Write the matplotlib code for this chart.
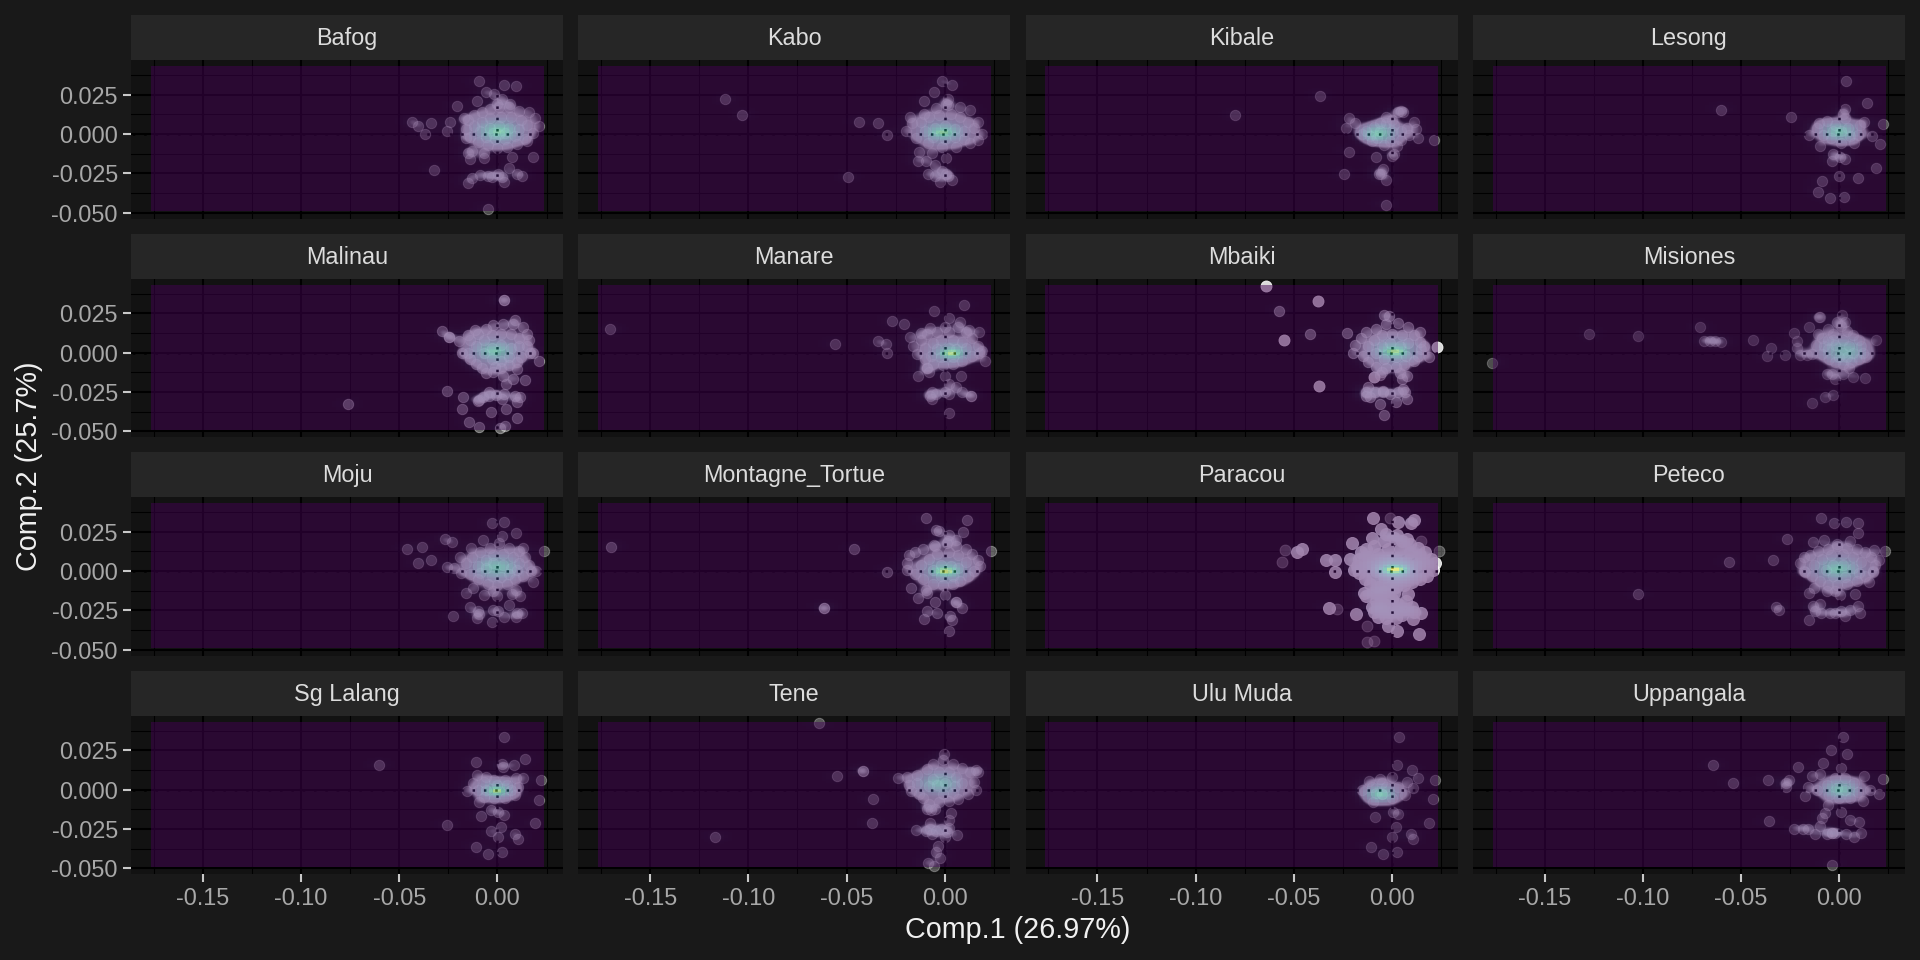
import numpy as np
import matplotlib
matplotlib.use("Agg")
import matplotlib.pyplot as plt

# -------- CONFIG --------
FIG_W = 1920
FIG_H = 960
DPI = 100

PANEL_LEFT = 131
PANEL_W = 432
COL_STEP = 447.3
PANEL_TOP = 60
PANEL_H = 158.5
ROW_STEP = 218.5
STRIP_H = 45

BG = "#191919"
PANEL_BG = "#121212"
STRIP_BG = "#262626"

XLIM = (-0.1866, 0.0334)
YLIM = (-0.0536, 0.0471)
RASTER_X = (-0.1766, 0.0234)
RASTER_Y = (-0.049, 0.0425)
BW_X = 0.0042
BW_Y = 0.0026
VMAX = 40.0
# ------------------------

NAMES = ["Bafog", "Kabo", "Kibale", "Lesong",
         "Malinau", "Manare", "Mbaiki", "Misiones",
         "Moju", "Montagne_Tortue", "Paracou", "Peteco",
         "Sg Lalang", "Tene", "Ulu Muda", "Uppangala"]

X_TICKS = [-0.15, -0.10, -0.05, 0.00]
X_TICK_LABELS = ["-0.15", "-0.10", "-0.05", "0.00"]
X_MINOR = [-0.175, -0.125, -0.075, -0.025, 0.025]
Y_TICKS = [-0.050, -0.025, 0.000, 0.025]
Y_TICK_LABELS = ["-0.050", "-0.025", "0.000", "0.025"]
Y_MINOR = [-0.0375, -0.0125, 0.0125, 0.0375]

# densest spot of each panel, samples piled up around it (broad) and right on it (peak)
CORE_X = [0.001, -0.0005, -0.006, 0.0005, -0.001, 0.004, 0.002, 0.003,
          0.0, 0.001, 0.002, -0.0005, 0.0, -0.002, -0.005, 0.001]
CORE_Y = [0.0015, 0.001, 0.0, 0.001, 0.001, 0.0, 0.001, 0.001,
          0.002, 0.0, 0.001, 0.001, -0.0005, 0.004, -0.003, 0.0]
CORE_BROAD = [18, 15, 19, 17, 16, 14, 16, 15, 17, 15, 12, 17, 14, 15, 18, 17]
CORE_PEAK = [4, 12, 2, 2, 6, 18, 15, 0, 2, 19, 27, 4, 18, 1, 2, 2]
CORE_SPREAD = [1.0, 1.0, 0.75, 0.8, 1.0, 0.9, 1.0, 0.95,
               1.0, 1.0, 1.0, 1.0, 0.75, 0.95, 0.7, 0.8]

POINT_ALPHA = [0.3, 0.3, 0.3, 0.3, 0.4, 0.3, 0.45, 0.25,
               0.3, 0.35, 0.85, 0.3, 0.3, 0.3, 0.28, 0.3]

BAFOG = [(-.0094,.0335),(.0035,.0315),(.0096,.0306),(-.0057,.0265),(-.0016,.0252),(.0025,.0225),(-.0102,.0208),
         (-.0205,.018),(0,.0194),(.0065,.0194),(-.0436,.0079),(-.0405,.0052),(-.034,.0073),(-.0368,.0002),
         (-.0241,.0075),(-.0256,.0023),(-.017,.01),(-.016,-.0025),(-.015,-.0119),(-.0129,-.0108),(-.0139,-.016),
         (-.0068,-.0119),(-.0068,-.015),(.0076,-.0146),(.0182,-.0148),(.0061,-.0213),(-.0323,-.0231),(-.0149,-.031),
         (-.0129,-.0281),(-.0088,-.0258),(-.0047,-.0269),(-.0027,-.0275),(.0004,-.0254),(.0035,-.0306),(.0025,-.0275),
         (.0102,-.0254),(.0123,-.0269),(-.0049,-.0477),(.0153,-.0042),
         (-.015,.009),(-.012,.012),(-.008,.014),(-.004,.016),(.001,.017),(.006,.017),(.011,.015),(.016,.014),
         (.019,.010),(.021,.005),(.018,.001),(.014,-.003),(.010,-.006),(.005,-.008),(0,-.009),(-.005,-.007),
         (-.010,-.005),(-.014,-.002),(-.016,.003),(-.012,.005),(-.008,.008),(-.004,.010),(.002,.011),(.007,.011),
         (.012,.009),(.015,.006),(.011,.003),(.006,.004),(.001,.005),(-.004,.004),(-.009,.002),(-.006,-.002),
         (-.001,-.003),(.004,-.003),(.009,-.001),(.001,0),(.004,.001),(-.002,.001)]

KABO = [(-.1117,.0221),(-.1031,.0121),(-.0436,.0079),(-.0338,.0073),(-.0293,-.0004),(-.0491,-.0273),(-.0012,.0335),
        (.0035,.0315),(-.0053,.0265),(-.0104,.0208),(.0018,.0225),(.0008,.0194),(-.0129,-.0115),(-.0135,-.0171),
        (-.0094,-.0171),(-.0051,-.0198),(-.0084,-.0256),(-.0047,-.0265),(-.0023,-.0302),(.0035,-.029),(.0008,-.0254),
        (-.0012,-.0233),(.0018,-.0265),(.0008,-.015),(-.0063,-.0119),
        (-.0176,.011),(-.0196,.0017),(-.0166,.0069),(.0192,0),(.0172,.0079),(.0131,.0152),(.008,.0173),(.0018,.0183),
        (-.0043,.0163),(-.0104,.0131),(.0172,-.0035),(.0127,-.0056),(.0059,-.0081),(-.0012,-.0081),(-.0084,-.0056),
        (-.0145,-.0025),(-.012,.008),(-.008,.011),(-.003,.012),(.003,.013),(.008,.011),(.012,.008),(.015,.004),
        (.010,.002),(.005,.003),(0,.005),(-.005,.004),(-.010,.002),(-.006,-.002),(0,-.003),(.005,-.002),(.01,-.003)]

KIBALE = [(-.0798,.0121),(-.0366,.0242),(-.022,.01),(-.0189,.0073),(-.0235,.0042),(-.022,-.0113),(-.0083,-.0144),
          (.0002,-.014),(.0008,-.0129),(-.0048,-.0219),(-.0064,-.0256),(-.0056,-.0254),(-.0029,-.029),(-.0243,-.0254),
          (-.0031,-.0448),(.0216,-.0037),(.0133,-.0025),(.011,.0079),(.0121,.0033),(.0044,.0148),(.0054,.0142),
          (.0033,.0142),(.0023,-.0073),(-.0029,.011),(.0002,.009),(-.0133,.0017),(-.0154,.0002),(-.0102,-.0046),
          (-.0039,-.0067),(-.0091,.0048),(-.006,.0069),(-.0029,.0069),(.0012,.0058),(.0075,.0038),(.0085,-.0004),
          (.0044,-.0035),(-.0008,-.0046),(-.0077,-.0025),(-.0112,-.001),(-.006,.0017),(.0002,.0017),(.0044,.0017)]

LESONG = [(-.0603,.0156),(-.0245,.0106),(.0035,.0335),(.0141,.0198),(.0027,.0158),(.0222,.0065),(.0168,-.001),
          (.0208,-.0063),(-.01,-.0077),(-.0152,-.0004),(-.0031,-.0125),(-.0035,-.0171),(.0031,-.0156),(.0002,-.0144),
          (.0189,-.0213),(.0094,-.0281),(-.0004,-.0269),(-.0089,-.0298),(-.0108,-.0365),(-.0048,-.0406),(.0025,-.0398),
          (-.0104,.0069),(-.0062,.0085),(-.0114,.0038),(-.0083,-.0004),(-.0042,-.0025),(.001,-.0056),(.0073,-.0056),
          (.0094,-.0004),(.0104,.0058),(.0125,.0079),(.0031,.01),(-.0021,.0058),(.0042,.0038),(.001,.0017),
          (-.0031,.0017),(.0052,-.0015),(.0021,.0131)]

MALINAU = [(-.076,-.0327),(.0035,.0333),(.0035,.0333),(.0091,.021),(-.0281,.0137),(-.0245,.0102),(-.0245,.0102),
           (-.0181,0),(-.0152,.0113),(-.0113,.0144),(-.0197,.0071),(.0212,-.0054),(.0168,0),(.0139,-.0175),
           (.008,-.0165),(.0102,-.0106),(.0046,-.02),(-.0259,-.0246),(-.0175,-.0283),(-.0093,-.0304),(-.0179,-.036),
           (-.0031,-.0379),(.0046,-.0358),(.0099,-.0413),(-.0146,-.0438),(-.0093,-.0471),(.004,-.0463),(.0013,-.048),
           (-.0042,-.0273),(-.0075,-.0283),(-.0097,-.0308),(-.0042,-.0252),(-.0009,-.0267),(.0035,-.0263),
           (.0091,-.0273),(.0113,-.0283),(.0102,-.0315),(.0024,-.0294),
           (-.014,.008),(-.010,.012),(-.006,.015),(-.002,.0175),(.003,.018),(.008,.018),(.013,.0165),(.015,.012),
           (.016,.008),(.015,.004),(.018,0),(.012,-.003),(.010,-.006),(.006,-.008),(.002,-.010),(-.002,-.012),
           (-.006,-.013),(-.008,-.010),(-.011,-.007),(-.014,-.004),(-.015,0),(-.011,.004),(-.007,.008),(-.003,.011),
           (.002,.012),(.007,.012),(.011,.009),(.011,.004),(.007,.003),(.002,.005),(-.003,.003),(-.007,0),
           (-.003,-.004),(.002,-.005),(.006,-.003),(-.001,-.009),(.003,-.015)]

MANARE = [(-.1704,.015),(-.0561,.0056),(-.0338,.0071),(-.0298,.0056),(-.0294,-.0004),(-.0267,.0202),(-.0208,.0179),
          (-.0055,.0265),(.0097,.0304),(.0024,.0223),(.008,.0196),(-.0175,.0098),(-.0122,.0123),(-.0077,.0158),
          (0,.0165),(.0177,.0133),(.0203,-.0054),(.0177,0),(.0122,.0144),(-.0137,-.015),(-.0088,-.0096),(.0082,-.0148),
          (0,-.0148),(.0022,-.02),(.0055,-.0221),(.0133,-.0273),(.0133,-.0273),(.0088,-.0252),(-.0066,-.0252),
          (-.0077,-.0273),(-.0044,-.0263),(0,-.0252),(.0022,-.0263),(-.0066,-.0294),(.0022,-.0383),
          (-.016,.004),(-.012,.008),(-.009,.012),(-.004,.013),(.002,.013),(.007,.016),(.011,.013),(.014,.009),
          (.017,.004),(.019,.001),(.014,-.002),(.009,-.005),(.004,-.007),(-.001,-.008),(-.006,-.007),(-.010,-.004),
          (-.014,-.001),(-.010,.003),(-.006,.006),(-.002,.008),(.004,.008),(.009,.007),(.011,.003),(.006,.002),
          (.002,.003),(-.004,.002),(-.007,-.002),(-.002,-.003),(.004,-.003),(-.009,-.010),(-.008,-.012)]

MBAIKI = [(-.0573,.0267),(-.0418,.0119),(-.023,.0125),(-.004,.0238),(-.0015,.0233),(.014,.0133),(.019,-.0029),
          (.0165,.004),(-.0043,-.0396),(-.006,-.0325),(.004,-.0127),(.0078,-.0148),(.0053,-.0169),(.0078,-.0294),
          (.002,-.0315),(.0058,-.0231),(-.0135,-.0252),(-.011,-.0283),(-.0085,-.0252),(-.0048,-.0252),(-.001,-.0263),
          (.0028,-.0252),(.0065,-.0252),(-.0123,-.0221),(-.0048,-.0242),(-.0135,-.0273),
          (-.019,.005),(-.02,0),(-.016,.009),(-.013,.013),(-.008,.015),(-.003,.018),(.003,.019),(.008,.016),
          (.011,.011),(.014,.007),(.015,.002),(.013,-.002),(.011,-.005),(.006,-.008),(.002,-.009),(-.003,-.010),
          (-.008,-.009),(-.012,-.006),(-.015,-.002),(-.012,.004),(-.009,.008),(-.005,.011),(0,.012),(.005,.011),
          (.008,.006),(.004,.004),(-.001,.006),(-.005,.004),(-.008,0),(-.004,-.004),(.002,-.003),(.007,-.002),
          (-.005,-.012),(-.006,-.014)]
MBAIKI_BRIGHT = [(-.064,.0421),(-.0378,.0327),(-.055,.0083),(-.037,-.0213),(.023,.0035),(-.009,-.0152)]

MISIONES = [(-.177,-.0063),(-.1273,.0119),(-.1023,.0108),(-.071,.0165),(-.0688,.0077),(-.0658,.0075),(-.0633,.0075),
            (-.0605,.0065),(-.0438,.0079),(-.0348,.0029),(-.037,-.0023),(-.0275,-.0017),(-.023,.0127),(-.0213,.0071),
            (-.0213,.0029),(-.0155,.0165),(-.0105,.0227),(-.01,.0227),(.0013,.0242),(.003,.0196),(-.0013,.0196),
            (.0185,.0081),(.0138,-.0025),(-.02,-.0013),(-.0163,-.0013),(-.0138,-.0008),(-.0063,-.0133),(-.0038,-.0133),
            (-.002,-.0169),(.0018,-.0138),(.007,-.0154),(.013,-.0158),(.005,-.0096),(-.003,-.0267),(-.0075,-.0279),
            (-.0138,-.0321),
            (-.011,.012),(-.009,.009),(-.012,.005),(-.008,.004),(-.006,.015),(-.003,.012),(.001,.017),(.004,.014),
            (.007,.011),(.010,.008),(.011,.004),(.012,0),(.010,-.004),(.006,-.006),(.002,-.007),(-.002,-.006),
            (-.005,-.004),(-.009,-.001),(-.006,.002),(-.002,.005),(.002,.008),(.005,.004),(.007,0),(.002,0),
            (0,-.003),(-.003,.008),(-.006,.008),(.004,-.003)]

MOJU = [(-.0027,.0304),(.0035,.0315),(.0094,.0244),(-.0074,.0198),(.0025,.0225),(-.0266,.0206),(-.0233,.0185),
        (-.0385,.0152),(-.0462,.0142),(-.034,.0073),(-.0405,.0052),(-.0256,.0027),(-.0221,.0023),(-.0135,.0144),
        (-.0192,.009),(-.0184,-.001),(.0131,.0148),(.0235,.0127),(.018,-.0067),(.0198,.0002),(-.016,-.014),
        (-.0123,-.0108),(-.0068,-.015),(-.002,-.0129),(0,-.0156),(.0076,-.0146),(.0096,-.0119),(.0117,-.0156),
        (-.0139,-.0227),(-.0098,-.0254),(-.0094,-.0275),(-.0102,-.03),(-.0225,-.0288),(-.0027,-.0323),(-.002,-.0248),
        (.0004,-.0254),(.0035,-.029),(.0061,-.0213),(.0096,-.029),(.0102,-.0265),(.0123,-.0269),
        (-.016,.005),(-.013,.009),(-.009,.012),(-.004,.015),(.001,.018),(.006,.015),(.011,.013),(.014,.009),
        (.016,.004),(.017,0),(.013,-.003),(.009,-.005),(.005,-.008),(0,-.009),(-.005,-.008),(-.010,-.005),
        (-.014,-.002),(-.010,.003),(-.006,.007),(-.002,.010),(.003,.011),(.008,.009),(.011,.005),(.007,.002),
        (.003,.004),(-.002,.005),(-.006,.002),(-.003,-.003),(.002,-.004),(.006,-.002),(-.009,-.001),(.01,.001)]

MONTAGNE = [(-.17,.0152),(-.0462,.0142),(-.0293,-.0004),(-.0614,-.0235),(-.0614,-.0235),(-.0096,.0335),(.0113,.0323),
            (-.0043,.026),(-.0027,.0256),(.0094,.0246),(.0023,.0231),(.0059,.0198),(.0018,.0194),(.0237,.0127),
            (-.0053,.0163),(-.0174,-.0106),(-.0135,-.0171),(-.0088,-.014),(-.0094,-.0119),(.0002,-.015),(-.0051,-.0198),
            (-.0088,-.0254),(.0059,-.0198),(.0059,-.0198),(.009,-.0233),(-.0037,-.0269),(.0029,-.0285),(.0037,-.031),
            (-.0104,-.0302),(.0023,-.0383),
            (-.018,.010),(-.019,.005),(-.019,.001),(-.015,.012),(-.011,.014),(-.005,.016),(.001,.018),(.006,.016),
            (.011,.014),(.014,.011),(.017,.007),(.018,.003),(.015,0),(.012,-.003),(.008,-.006),(.004,-.008),
            (-.001,-.009),(-.006,-.008),(-.011,-.005),(-.015,-.002),(-.012,.004),(-.008,.008),(-.004,.011),(.002,.012),
            (.007,.010),(.011,.006),(.007,.002),(.003,.003),(-.002,.004),(-.006,.001),(-.002,-.003),(.004,-.003)]

PARACOU = [(-.0486,.0121),(-.0459,.0142),(-.0335,.0073),(-.0289,.0069),(-.0216,.0075),(-.0289,-.0004),(-.0195,.0006),
           (-.0206,.0179),(-.0096,.0335),(.0031,.0315),(.0096,.0308),(.0112,.0323),(-.0054,.0267),(-.0029,.0235),
           (-.0102,.0208),(.0023,.0231),(.0075,.0204),(-.0322,-.0233),(-.0181,-.0271),(-.0143,-.014),(-.0133,-.016),
           (-.0019,-.0348),(.0025,-.0383),(.0135,-.04),(.0081,-.0146),(.0148,-.0265),(.0106,-.0302),
           (-.016,.012),(-.017,.008),(-.018,.003),(-.017,-.001),(-.013,.014),(-.009,.016),(-.004,.019),(.001,.021),
           (.005,.019),(.009,.017),(.013,.015),(.017,.012),(.020,.008),(.022,.005),(.021,.001),(.018,-.003),
           (.014,-.005),(.010,-.007),(.006,-.009),(.002,-.01),(-.003,-.011),(-.007,-.01),(-.011,-.008),(-.014,-.005),
           (-.012,.004),(-.012,.009),(-.007,.011),(-.002,.014),(.004,.014),(.009,.012),(.014,.010),(.016,.005),
           (.012,.004),(.007,.006),(.002,.008),(-.003,.008),(-.007,.005),(-.008,0),(-.004,-.004),(.001,-.005),
           (.006,-.003),(.010,-.001),(-.009,-.013),(-.006,-.016),(-.004,-.013),(.001,-.014),(-.008,-.019),(-.004,-.021),
           (0,-.018),(.003,-.021),(-.009,-.026),(-.005,-.025),(-.001,-.026),(.003,-.025),(.007,-.024),(.010,-.023),
           (-.007,-.029),(-.003,-.03),(.002,-.03),(.005,-.028),(.011,-.026),(-.010,-.023),(.007,-.019),(-.006,-.023)]
PARACOU_FAINT = [(-.0547,.0135),(-.0559,.0056),(-.0012,.0335),(.0148,.0194),(.0239,.0127),(-.0278,-.0238),
                 (-.0127,-.0348),(-.0127,-.0452),(-.0091,-.0446)]

PETECO = [(-.1025,-.0144),(-.0561,.0056),(-.0339,.0073),(-.0266,.0204),(-.0322,-.0229),(-.0305,-.0244),(-.0094,.0335),
          (-.0027,.0306),(.0033,.0315),(.0096,.0308),(.0094,.0242),(-.0135,.0188),(-.0077,.0198),(.0052,.019),
          (-.001,.0173),(.0235,.0127),(.0177,.0135),(.0202,.0069),(.0152,-.0067),(.0172,-.0004),(-.0177,-.0004),
          (-.0156,-.014),(-.0129,-.0108),(-.0062,-.0129),(-.0021,-.0129),(.0006,-.015),(.0079,-.0148),(-.0152,-.0312),
          (-.0135,-.0223),(-.0098,-.0206),(-.0125,-.0254),(-.0094,-.0269),(-.0048,-.0265),(-.0021,-.0265),(.0031,-.0285),
          (.0052,-.0244),(.0094,-.0219),(.0104,-.0265),(.001,-.0254),
          (-.018,.009),(-.02,.005),(-.018,0),(-.015,.010),(-.011,.013),(-.006,.014),(-.001,.016),(.004,.015),
          (.009,.014),(.013,.012),(.016,.009),(.018,.004),(.017,0),(.013,-.003),(.009,-.006),(.004,-.008),
          (-.001,-.009),(-.006,-.009),(-.010,-.006),(-.014,-.003),(-.013,.004),(-.009,.008),(-.004,.010),(.002,.011),
          (.007,.009),(.011,.006),(.007,.002),(.002,.004),(-.003,.004),(-.007,.001),(-.003,-.003),(.003,-.004),(.01,-.001)]

SG_LALANG = [(-.0605,.0156),(.0036,.0333),(-.0107,.0177),(.0021,.016),(.0028,.0144),(.0086,.0154),(.0141,.0196),
             (.0221,.006),(.021,-.0063),(-.0154,-.0008),(-.0094,-.0079),(-.0105,.0092),(-.0058,.0081),(.0131,.0077),
             (-.0259,-.0225),(-.0084,-.0169),(-.0032,-.0127),(.0002,-.0142),(.0032,-.0158),(.0191,-.0213),(.0019,-.0238),
             (-.0032,-.0263),(.0002,-.0304),(.0092,-.0279),(.0107,-.0313),(-.0107,-.0363),(-.0047,-.0408),(.0024,-.0398),
             (-.0122,.004),(-.0069,.005),(-.0015,.006),(.0039,.006),(.0096,.0071),(.0103,.0019),(.0092,-.0033),
             (.0039,-.0054),(-.0015,-.0054),(-.0069,-.0044),(-.0101,-.0002),(-.0058,-.0002),(-.0004,.0029),(.0049,.0029),
             (.0071,-.0002)]

TENE = [(-.0639,.0421),(-.0551,.0085),(-.0418,.0119),(-.0418,.0119),(-.0364,-.0058),(-.0371,-.0213),(-.1168,-.0298),
        (-.0002,.0227),(-.024,.0077),(-.0193,.0081),(.0161,.0123),(.0171,.0113),(.0032,-.0148),(.0021,-.0196),
        (-.0146,-.0258),(.0064,-.029),(-.0036,-.0356),(-.0043,-.0398),(-.0026,-.0433),(-.0086,-.0463),(-.0054,-.0483),
        (-.0073,-.021),(-.0096,-.0263),(-.0064,-.0279),(-.0021,-.0252),(.0011,-.0267),(.0021,-.0242),(0,-.0304),
        (-.0043,-.0263),(-.0073,-.0252),
        (-.018,.003),(-.017,-.001),(-.014,.009),(-.014,.004),(-.013,-.003),(-.009,.013),(-.006,.016),(-.001,.019),
        (.004,.016),(.009,.014),(.013,.011),(.015,.005),(.016,0),(.012,-.003),(.007,-.006),(.002,-.007),
        (-.003,-.008),(-.008,-.009),(-.009,-.012),(-.007,-.013),(-.005,-.012),(-.011,-.005),(-.008,.002),(-.006,.007),
        (-.003,.011),(.002,.011),(.006,.008),(.009,.004),(.005,.002),(0,.004),(-.004,.003),(-.001,-.003),(.004,-.002)]

ULU_MUDA = [(.0037,.0333),(.0027,.0158),(.01,.0123),(.0131,.0077),(.022,.006),(.021,-.006),(-.0152,-.0004),
            (-.0116,.0054),(-.0098,-.0079),(-.0085,-.0171),(.0006,-.0142),(.0033,-.0154),(.0019,-.0238),(.0002,-.0304),
            (.0096,-.0279),(.0106,-.0313),(.0189,-.0213),(-.0106,-.0365),(-.0048,-.0408),(.0025,-.0398),
            (-.005,-.0029),(-.005,-.0029),(-.006,.0065),(-.0002,.0081),(.0075,.005),(.0106,.0008),(.0064,-.0033),
            (.0002,-.0054),(-.0081,-.0023),(-.0029,.0019),(.0033,.0019),(-.0102,.0019),(-.005,.004)]

UPPANGALA = [(-.0642,.0154),(-.054,.0044),(-.036,-.0202),(-.0364,.0063),(-.0256,.006),(-.027,.004),(-.0274,.0019),
             (.0019,.0335),(-.0044,.0254),(.0039,.0227),(-.0083,.0167),(-.0212,.0142),(.001,.0138),(.0222,.0065),
             (.0125,.0085),(.0204,-.0029),(.0156,-.0002),(.0121,-.0071),(-.0177,-.004),(-.016,.0019),(-.0139,.0085),
             (-.01,.0102),(-.006,-.0096),(-.0073,-.0148),(-.0089,-.0183),(-.01,-.0231),(.001,-.0142),(.0052,-.019),
             (.01,-.0204),(-.0229,-.0248),(-.0187,-.0248),(-.016,-.0248),(-.0125,-.0283),(-.0062,-.0279),(-.0035,-.0275),
             (-.0035,-.0275),(-.0021,-.0273),(.0035,-.0283),(.0077,-.03),(.011,-.0273),(-.0035,-.0481),
             (-.0062,.0029),(-.0021,.0071),(.0031,.0071),(.0073,.004),(.0094,-.0013),(.0052,-.0054),(0,-.0054),
             (-.0052,-.0033),(-.0114,-.0002),(-.001,.0008),(.0031,-.0002)]

POINTS = [BAFOG, KABO, KIBALE, LESONG, MALINAU, MANARE, MBAIKI, MISIONES,
          MOJU, MONTAGNE, PARACOU, PETECO, SG_LALANG, TENE, ULU_MUDA, UPPANGALA]
# second layer of points with their own opacity
EXTRA = {"Mbaiki": (MBAIKI_BRIGHT, 0.85), "Paracou": (PARACOU_FAINT, 0.3)}

plt.rcParams["font.family"] = ["Liberation Sans", "DejaVu Sans"]


def blob(xx, yy, cx, cy, sx, sy):
    return np.exp(-0.5 * (((xx - cx) / sx) ** 2 + ((yy - cy) / sy) ** 2))


def density(xx, yy, pts, i, bw_x, bw_y):
    z = np.zeros_like(xx)
    for px, py in pts:
        z += blob(xx, yy, px, py, bw_x, bw_y)
    spread = CORE_SPREAD[i]
    z += CORE_BROAD[i] * blob(xx, yy, CORE_X[i], CORE_Y[i], 0.0072 * spread, 0.0048 * spread)
    z += CORE_PEAK[i] * blob(xx, yy, CORE_X[i], CORE_Y[i] - 0.0005, 0.0038 * spread, 0.0016)
    return z


fig = plt.figure(figsize=(FIG_W / DPI, FIG_H / DPI), dpi=DPI, facecolor=BG)

for i, name in enumerate(NAMES):
    row, col = divmod(i, 4)
    left = PANEL_LEFT + col * COL_STEP
    top = PANEL_TOP + row * ROW_STEP

    # strip on top of the panel
    strip = fig.add_axes([left / FIG_W, 1 - top / FIG_H, PANEL_W / FIG_W, STRIP_H / FIG_H])
    strip.set_facecolor(STRIP_BG)
    strip.set_xticks([])
    strip.set_yticks([])
    for s in strip.spines.values():
        s.set_visible(False)
    strip.text(0.5, 0.47, name, transform=strip.transAxes, ha="center", va="center",
               fontsize=16.8, color="#dcdcdc")

    ax = fig.add_axes([left / FIG_W, 1 - (top + PANEL_H) / FIG_H, PANEL_W / FIG_W, PANEL_H / FIG_H])
    ax.set_facecolor(PANEL_BG)
    for s in ax.spines.values():
        s.set_visible(False)

    ax.set_xticks(X_TICKS)
    ax.set_yticks(Y_TICKS)
    ax.set_xticks(X_MINOR, minor=True)
    ax.set_yticks(Y_MINOR, minor=True)
    ax.set_axisbelow(True)
    ax.grid(True, which="major", color="black", lw=1.5, zorder=1)
    ax.grid(True, which="minor", color="black", lw=0.75, zorder=1)

    ax.tick_params(which="minor", length=0)
    ax.tick_params(which="major", length=5.5, width=1.5, color="#c8c8c8",
                   labelcolor="#a8a8a8", labelsize=16.8, pad=4)
    if col == 0:
        ax.set_yticklabels(Y_TICK_LABELS)
    else:
        ax.tick_params(axis="y", left=False, labelleft=False)
    if row == 3:
        ax.set_xticklabels(X_TICK_LABELS)
    else:
        ax.tick_params(axis="x", bottom=False, labelbottom=False)

    pts = np.array(POINTS[i])
    alpha = POINT_ALPHA[i]
    size = 75 if name == "Paracou" else 56
    ax.scatter(pts[:, 0], pts[:, 1], s=size, c="white", alpha=alpha, linewidths=0.7,
               edgecolors="white", zorder=2)
    if name in EXTRA:
        extra, a = EXTRA[name]
        extra = np.array(extra)
        ax.scatter(extra[:, 0], extra[:, 1], s=62, c="white", alpha=a, linewidths=0.7,
                   edgecolors="white", zorder=2)

    # where many points overlap the pale fill goes nearly solid
    fx = np.linspace(XLIM[0], XLIM[1], 440)
    fy = np.linspace(YLIM[0], YLIM[1], 160)
    fxx, fyy = np.meshgrid(fx, fy)
    cover = density(fxx, fyy, pts, i, 0.0030, 0.0024)
    cover_alpha = np.clip((cover - 1.15) / 1.0, 0, 1) * (0.95 if name == "Paracou" else 0.78)
    fill = np.ones(cover.shape + (4,))
    fill[..., 3] = cover_alpha
    ax.imshow(fill, origin="lower", extent=(XLIM[0], XLIM[1], YLIM[0], YLIM[1]),
              aspect="auto", interpolation="bilinear", zorder=2.5)

    # dotted lines through zero sit under the density layer
    ax.axhline(0, color="black", lw=1.8, ls=(7.2 / 1.8, (1, 3.53)), zorder=2.7)
    ax.axvline(0, color="black", lw=1.8, ls=(1.9 / 1.8, (1, 3.53)), zorder=2.7)

    gx = np.linspace(RASTER_X[0], RASTER_X[1], 100)
    gy = np.linspace(RASTER_Y[0], RASTER_Y[1], 100)
    xx, yy = np.meshgrid(gx, gy)
    z = density(xx, yy, pts, i, BW_X, BW_Y)
    ax.imshow(z, origin="lower", extent=(RASTER_X[0], RASTER_X[1], RASTER_Y[0], RASTER_Y[1]),
              cmap="viridis", vmin=0, vmax=VMAX, alpha=0.5, aspect="auto",
              interpolation="nearest", zorder=3)
    ax.set_xlim(XLIM)
    ax.set_ylim(YLIM)

fig.text(1018 / FIG_W, 1 - 930 / FIG_H, "Comp.1 (26.97%)", ha="center", va="center",
         fontsize=20.7, color="#f0f0f0")
fig.text(29 / FIG_W, 1 - 466 / FIG_H, "Comp.2 (25.7%)", ha="center", va="center",
         rotation=90, fontsize=20.7, color="#f0f0f0")

fig.savefig("out.png", dpi=DPI, facecolor=BG)
